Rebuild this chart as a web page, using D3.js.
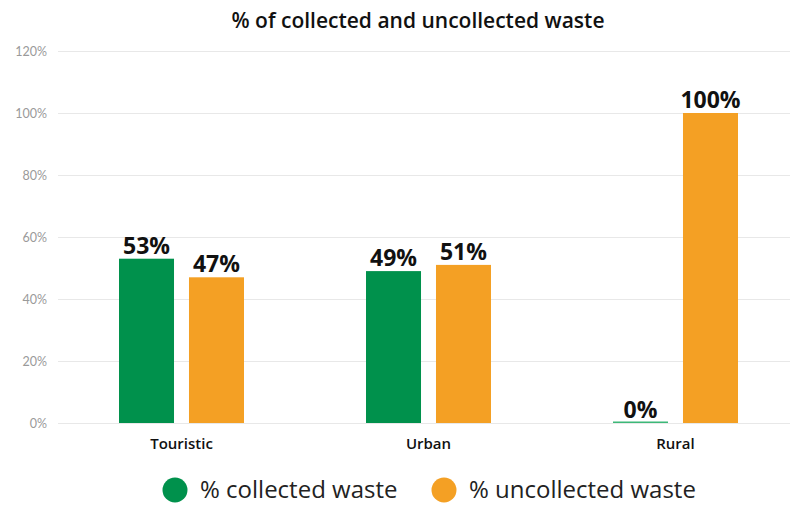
<!DOCTYPE html>
<html lang="en">
<head>
    <meta charset="UTF-8">
    <title>% of collected and uncollected waste</title>
    <script src="https://d3js.org/d3.v7.min.js"></script>
    <style>
        body { margin: 0; background: #fff; font-family: "Open Sans", Arial, sans-serif; }
    </style>
</head>
<body>
    <div id="chart"></div>
    <script>
        // data
        const categories = ["Touristic", "Urban", "Rural"];
        const seriesNames = ["% collected waste", "% uncollected waste"];
        const collected = [53, 49, 0];
        const uncollected = [47, 51, 100];
        const yTicks = [0, 20, 40, 60, 80, 100, 120];
        const colors = ["#00914c", "#f4a024"];

        const width = 790, height = 505;
        const margin = {top: 51, right: -9, bottom: 82, left: 58};

        const svg = d3.select("#chart").append("svg")
            .attr("width", width)
            .attr("height", height);

        const rows = categories.map((c, i) => ({cat: c, values: [collected[i], uncollected[i]]}));

        const x0 = d3.scaleBand().domain(categories)
            .range([margin.left, width - margin.right]);
        const bw = x0.bandwidth();
        const x1 = d3.scaleBand().domain([0, 1])
            .range([bw * 0.247, bw * 0.753])
            .paddingInner(0.214);
        const y = d3.scaleLinear().domain([0, 120])
            .range([height - margin.bottom, margin.top]);

        // title
        svg.append("text")
            .attr("x", 418).attr("y", 28)
            .attr("text-anchor", "middle")
            .attr("font-size", 21)
            .attr("font-weight", 600)
            .attr("fill", "#111")
            .text("% of collected and uncollected waste");

        // grid + y axis
        const yAxis = svg.append("g")
            .attr("transform", `translate(${margin.left},0)`)
            .call(d3.axisLeft(y).tickValues(yTicks).tickFormat(d => d + "%")
                .tickSize(-(width - margin.left)).tickPadding(11));
        yAxis.select(".domain").remove();
        yAxis.selectAll(".tick line").attr("stroke", "#e8e8e8");
        yAxis.selectAll(".tick text")
            .attr("fill", "#9a9a9a")
            .attr("font-size", 12.5)
            .attr("font-family", "Lato, sans-serif");

        // bars
        const groups = svg.selectAll(".grp").data(rows).enter().append("g")
            .attr("transform", d => `translate(${x0(d.cat)},0)`);

        groups.selectAll("rect").data(d => d.values).enter().append("rect")
            .attr("x", (d, i) => x1(i))
            .attr("width", x1.bandwidth())
            .attr("y", d => Math.min(y(d), y(0) - 1.5))
            .attr("height", d => Math.max(y(0) - y(d), 1.5))
            .attr("fill", (d, i) => d === 0 ? "#3cb878" : colors[i]);

        groups.selectAll(".lbl").data(d => d.values).enter().append("text")
            .attr("x", (d, i) => x1(i) + x1.bandwidth() / 2)
            .attr("y", d => y(d) - 5)
            .attr("text-anchor", "middle")
            .attr("font-size", 23)
            .attr("font-weight", 700)
            .attr("fill", "#111")
            .text(d => d + "%");

        // category labels
        svg.selectAll(".cat").data(categories).enter().append("text")
            .attr("x", d => x0(d) + bw / 2)
            .attr("y", y(0) + 26)
            .attr("text-anchor", "middle")
            .attr("font-size", 15)
            .attr("font-weight", 600)
            .attr("fill", "#111")
            .text(d => d);

        // legend
        const legendX = [175, 444];
        const legend = svg.selectAll(".leg").data(seriesNames).enter().append("g")
            .attr("transform", (d, i) => `translate(${legendX[i]},490)`);
        legend.append("circle").attr("r", 12.5).attr("fill", (d, i) => colors[i]);
        legend.append("text")
            .attr("x", 25).attr("y", 8)
            .attr("font-size", 24)
            .attr("fill", "#222")
            .text(d => d);
    </script>
</body>
</html>
